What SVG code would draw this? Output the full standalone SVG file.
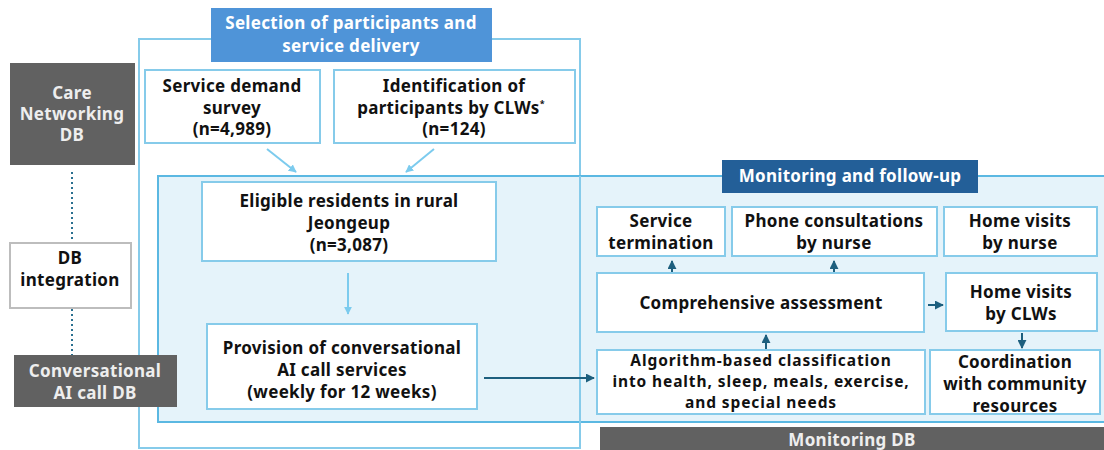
<svg xmlns="http://www.w3.org/2000/svg" width="1104" height="450" viewBox="0 0 1104 450">
  <style>
    .t { font-family: "Noto Sans", "Open Sans", sans-serif; font-weight: bold; font-size: 17px; letter-spacing: 0.3px; text-anchor: middle; fill: #111; }
    .s { font-size: 15.5px; letter-spacing: 0.9px; }
    .w { fill: #ffffff; }
    .g { fill: #eeeeee; }
    .box { fill: #ffffff; stroke: #86cbea; stroke-width: 2; }
    .db { fill: #616161; }
    .la { stroke: #7ccbee; stroke-width: 2; fill: none; }
    .da { stroke: #1d5f7e; stroke-width: 2; fill: none; }
  </style>
  <defs>
    <marker id="hl" viewBox="0 0 10 10" refX="9" refY="5" markerWidth="4" markerHeight="4" orient="auto">
      <path d="M0,0 L10,5 L0,10 z" fill="#7ccbee"/>
    </marker>
    <marker id="hd" viewBox="0 0 10 10" refX="9" refY="5" markerWidth="4.5" markerHeight="4.5" orient="auto">
      <path d="M0,0 L10,5 L0,10 z" fill="#1d5f7e"/>
    </marker>
  </defs>
  <rect width="1104" height="450" fill="#ffffff"/>

  <!-- frames -->
  <g id="frames">
    <rect x="139" y="39" width="441" height="409" fill="none" stroke="#86cbea" stroke-width="2"/>
    <rect x="158" y="176" width="950" height="246" fill="#e5f3fa" stroke="#5bb8e2" stroke-width="2"/>
    <line x1="580" y1="176" x2="580" y2="448" stroke="#86cbea" stroke-width="2"/>
  </g>

  <!-- connectors -->
  <g id="connectors">
    <line x1="72" y1="172" x2="72" y2="242" stroke="#2a6f8f" stroke-width="2" stroke-dasharray="2 3"/>
    <line x1="72" y1="309" x2="72" y2="355" stroke="#2a6f8f" stroke-width="2" stroke-dasharray="2 3"/>
    <line class="la" x1="267" y1="149" x2="296" y2="172" marker-end="url(#hl)"/>
    <line class="la" x1="434" y1="149" x2="406" y2="172" marker-end="url(#hl)"/>
    <line class="la" x1="348" y1="273" x2="348" y2="314" marker-end="url(#hl)"/>
    <line class="da" x1="484" y1="378" x2="594" y2="378" marker-end="url(#hd)"/>
    <line class="da" x1="672" y1="272" x2="672" y2="261" marker-end="url(#hd)"/>
    <line class="da" x1="834" y1="272" x2="834" y2="261" marker-end="url(#hd)"/>
    <line class="da" x1="766" y1="349" x2="766" y2="335" marker-end="url(#hd)"/>
    <line class="da" x1="928" y1="305" x2="943" y2="305" marker-end="url(#hd)"/>
    <line class="da" x1="1022" y1="333" x2="1022" y2="348" marker-end="url(#hd)"/>
  </g>

  <!-- section titles -->
  <g id="title-selection">
    <rect x="211" y="8" width="281" height="54" fill="#4f94d8"/>
    <text class="t w" x="351" y="29">Selection of participants and</text>
    <text class="t w" x="351" y="52">service delivery</text>
  </g>
  <g id="title-monitoring">
    <rect x="722" y="160" width="256" height="33" fill="#235f98"/>
    <text class="t w" x="850" y="182">Monitoring and follow-up</text>
  </g>

  <!-- databases -->
  <g id="care-networking-db">
    <rect class="db" x="10" y="63" width="125" height="102"/>
    <text class="t g" x="72" y="99">Care</text>
    <text class="t g" x="72" y="120">Networking</text>
    <text class="t g" x="72" y="141">DB</text>
  </g>
  <g id="db-integration">
    <rect x="10" y="243" width="121" height="65" fill="#ffffff" stroke="#bdbdbd" stroke-width="2"/>
    <text class="t" x="70" y="264">DB</text>
    <text class="t" x="70" y="286">integration</text>
  </g>
  <g id="ai-call-db">
    <rect class="db" x="14" y="355" width="163" height="52"/>
    <text class="t g" x="95" y="377">Conversational</text>
    <text class="t g" x="95" y="399">AI call DB</text>
  </g>
  <g id="monitoring-db">
    <rect class="db" x="600" y="427" width="504" height="23"/>
    <text class="t g" x="852" y="446">Monitoring DB</text>
  </g>

  <!-- selection nodes -->
  <g id="demand-survey">
    <rect class="box" x="145" y="70" width="175" height="73"/>
    <text class="t" x="232" y="92">Service demand</text>
    <text class="t" x="232" y="114">survey</text>
    <text class="t" x="232" y="135">(n=4,989)</text>
  </g>
  <g id="clw-identification">
    <rect class="box" x="334" y="70" width="241" height="73"/>
    <text class="t" x="454" y="92">Identification of</text>
    <text class="t" x="451" y="114">participants by CLWs<tspan font-size="9" dy="-7">*</tspan></text>
    <text class="t" x="454" y="135">(n=124)</text>
  </g>
  <g id="eligible-residents">
    <rect class="box" x="202" y="182" width="294" height="79"/>
    <text class="t" x="349" y="207">Eligible residents in rural</text>
    <text class="t" x="349" y="229">Jeongeup</text>
    <text class="t" x="349" y="251">(n=3,087)</text>
  </g>
  <g id="ai-call-services">
    <rect class="box" x="207" y="324" width="270" height="85"/>
    <text class="t" x="342" y="354">Provision of conversational</text>
    <text class="t" x="342" y="376">AI call services</text>
    <text class="t" x="342" y="398">(weekly for 12 weeks)</text>
  </g>

  <!-- monitoring nodes -->
  <g id="service-termination">
    <rect class="box" x="597" y="207" width="128" height="49"/>
    <text class="t" x="661" y="227">Service</text>
    <text class="t" x="661" y="249">termination</text>
  </g>
  <g id="phone-consultations">
    <rect class="box" x="732" y="207" width="205" height="49"/>
    <text class="t" x="834" y="227">Phone consultations</text>
    <text class="t" x="834" y="249">by nurse</text>
  </g>
  <g id="nurse-home-visits">
    <rect class="box" x="944" y="207" width="153" height="49"/>
    <text class="t" x="1020" y="227">Home visits</text>
    <text class="t" x="1020" y="249">by nurse</text>
  </g>
  <g id="comprehensive-assessment">
    <rect class="box" x="597" y="273" width="327" height="59"/>
    <text class="t" x="761" y="309">Comprehensive assessment</text>
  </g>
  <g id="clw-home-visits">
    <rect class="box" x="946" y="273" width="151" height="58"/>
    <text class="t" x="1021" y="298">Home visits</text>
    <text class="t" x="1021" y="320">by CLWs</text>
  </g>
  <g id="classification">
    <rect class="box" x="597" y="350" width="328" height="64"/>
    <text class="t s" x="761" y="366">Algorithm-based classification</text>
    <text class="t s" x="761" y="387">into health, sleep, meals, exercise,</text>
    <text class="t s" x="761" y="408">and special needs</text>
  </g>
  <g id="community-coordination">
    <rect class="box" x="930" y="350" width="170" height="64"/>
    <text class="t" x="1015" y="368">Coordination</text>
    <text class="t" x="1015" y="390">with community</text>
    <text class="t" x="1015" y="412">resources</text>
  </g>
</svg>
